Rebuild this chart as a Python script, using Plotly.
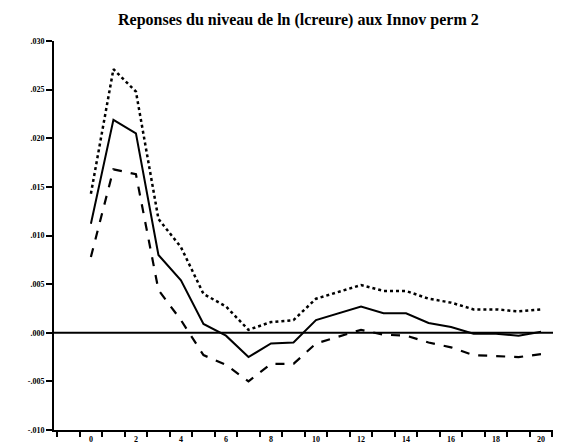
import plotly.graph_objects as go

steps = list(range(21))
response = [0.0112, 0.0219, 0.0205, 0.0080, 0.0054, 0.0009, -0.0003, -0.0025, -0.0011, -0.0010,
            0.0013, 0.0020, 0.0027, 0.0020, 0.0020, 0.0010, 0.0006, -0.0001, -0.0001, -0.0003, 0.0001]
upper = [0.0143, 0.0271, 0.0248, 0.0117, 0.0088, 0.0040, 0.0027, 0.0003, 0.0011, 0.0013,
         0.0035, 0.0042, 0.0049, 0.0043, 0.0043, 0.0035, 0.0031, 0.0024, 0.0024, 0.0022, 0.0024]
lower = [0.0078, 0.0168, 0.0163, 0.0044, 0.0013, -0.0023, -0.0033, -0.0050, -0.0032, -0.0032,
         -0.0011, -0.0004, 0.0003, -0.0002, -0.0003, -0.0010, -0.0015, -0.0023, -0.0024, -0.0025, -0.0022]

ytick_vals = [-0.010, -0.005, 0.000, 0.005, 0.010, 0.015, 0.020, 0.025, 0.030]
ytick_text = ["<b>-.010</b>", "<b>-.005</b>", "<b>.000</b>", "<b>.005</b>", "<b>.010</b>",
              "<b>.015</b>", "<b>.020</b>", "<b>.025</b>", "<b>.030</b>"]
xtick_vals = [0, 2, 4, 6, 8, 10, 12, 14, 16, 18, 20]
xtick_text = ["<b>%d</b>" % v for v in xtick_vals]
title = "Reponses du niveau de ln (lcreure) aux Innov perm 2"

fig = go.Figure()
fig.add_trace(go.Scatter(x=steps, y=upper, mode="lines",
                         line=dict(color="black", width=2.5, dash="dot"), showlegend=False))
fig.add_trace(go.Scatter(x=steps, y=lower, mode="lines",
                         line=dict(color="black", width=2.2, dash="dash"), showlegend=False))
fig.add_trace(go.Scatter(x=steps, y=response, mode="lines",
                         line=dict(color="black", width=2), showlegend=False))

fig.add_hline(y=0, line=dict(color="black", width=2))

fig.add_annotation(text="<b>" + title + "</b>", xref="paper", yref="paper",
                   x=0.475, y=1.054, xanchor="center", yanchor="middle", showarrow=False,
                   font=dict(family="Liberation Serif", size=16, color="black"))

fig.update_layout(
    width=561, height=445,
    margin=dict(l=46, r=0, t=33, b=23),
    paper_bgcolor="white", plot_bgcolor="white",
    font=dict(family="Liberation Serif", color="black"),
)
fig.update_xaxes(range=[-1.64, 21.24], tickvals=xtick_vals, ticktext=xtick_text, ticks="",
                 showgrid=False, zeroline=False, showline=True, linecolor="black", linewidth=2,
                 tickfont=dict(size=8, family="Liberation Serif", color="black"),
                 minor=dict(tick0=0.5, dtick=1, ticks="outside", ticklen=5, tickcolor="black",
                            tickwidth=1.5, showgrid=False))
fig.update_yaxes(range=[-0.010, 0.030], tickvals=ytick_vals, ticktext=ytick_text,
                 ticks="outside", ticklen=6, tickwidth=1.5, tickcolor="black",
                 showgrid=False, zeroline=False, showline=True, linecolor="black", linewidth=2,
                 tickfont=dict(size=8, family="Liberation Serif", color="black"))

fig.write_html("out.html")
